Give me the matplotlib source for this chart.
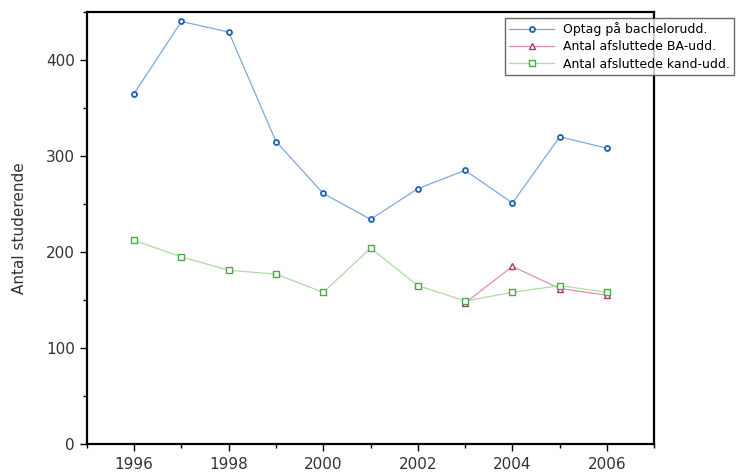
import matplotlib.pyplot as plt
from matplotlib.ticker import MultipleLocator

years = [1996, 1997, 1998, 1999, 2000, 2001, 2002, 2003, 2004, 2005, 2006]
optag = [365, 440, 429, 315, 261, 234, 266, 285, 251, 320, 308]
ba_years = [2003, 2004, 2005, 2006]
ba_udd = [147, 185, 162, 155]
kand_udd = [212, 195, 181, 177, 158, 204, 165, 149, 158, 165, 158]

fig = plt.figure(figsize=(7.36, 4.75), dpi=100)
ax = fig.add_axes([0.118, 0.065, 0.771, 0.91])

ax.plot(years, optag, color="#7ea9dc", lw=0.9, marker="o", ms=3.6, mfc="white",
        mec="#1a62b0", mew=1.3, label="Optag på bachelorudd.")
ax.plot(ba_years, ba_udd, color="#e08db0", lw=0.9, marker="^", ms=5, mfc="white",
        mec="#b8306e", mew=1.0, label="Antal afsluttede BA-udd.")
ax.plot(years, kand_udd, color="#acdca4", lw=0.9, marker="s", ms=4.5, mfc="white",
        mec="#4aa848", mew=1.0, label="Antal afsluttede kand-udd.")

ax.set_xlim(1995, 2007)
ax.set_ylim(0, 450)
ax.xaxis.set_major_locator(MultipleLocator(2))
ax.xaxis.set_minor_locator(MultipleLocator(1))
ax.yaxis.set_major_locator(MultipleLocator(100))
ax.yaxis.set_minor_locator(MultipleLocator(50))
ax.set_yticks([0, 100, 200, 300, 400])

for s in ax.spines.values():
    s.set_linewidth(1.6)
ax.tick_params(which="major", length=5, width=1, labelsize=11, labelcolor="#333333")
ax.tick_params(which="minor", length=3, width=1)
ax.tick_params(axis="x", pad=4)

ax.set_ylabel("Antal studerende", fontsize=11, color="#333333", labelpad=14)

leg = ax.legend(loc="upper left", bbox_to_anchor=(0.686, 0.963),
                bbox_transform=fig.transFigure, fontsize=9, frameon=True,
                fancybox=False, borderpad=0.35, handlelength=3.6,
                handletextpad=0.7, labelspacing=0.35, borderaxespad=0)
leg.get_frame().set_edgecolor("#444444")
leg.get_frame().set_linewidth(1.0)

fig.savefig("out.png", dpi=100)
